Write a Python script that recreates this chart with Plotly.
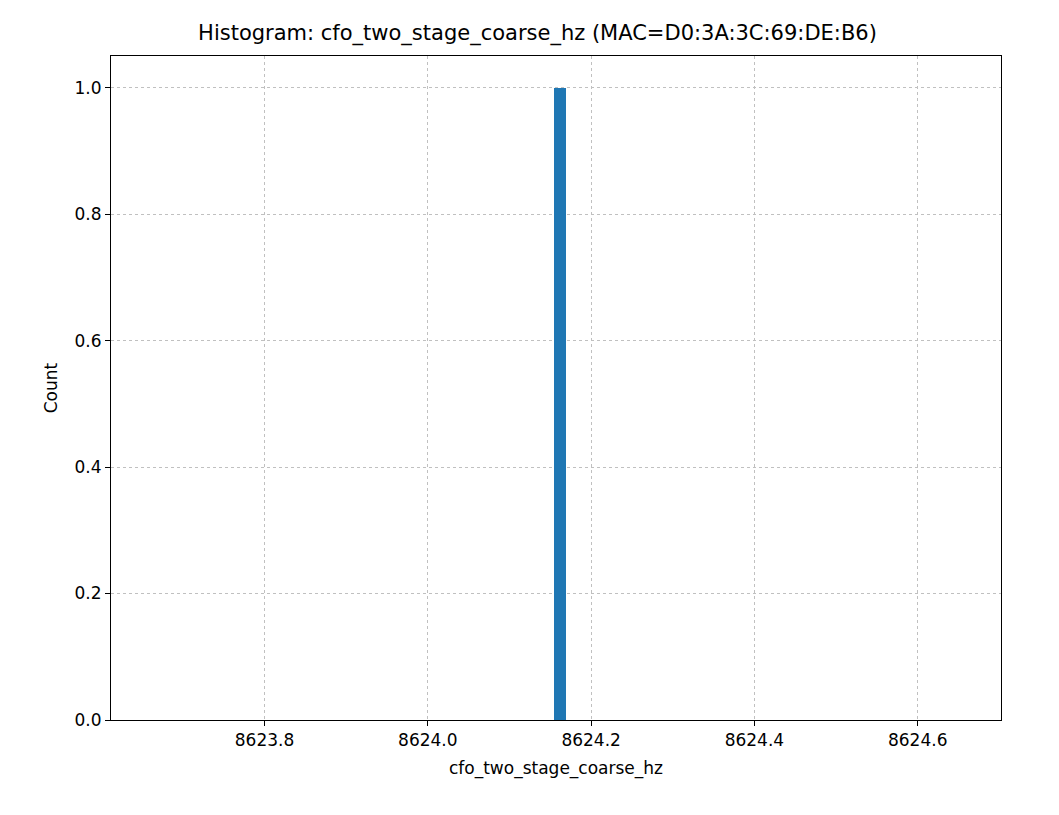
import plotly.graph_objects as go

# single observation -> one bin
bin_centers = [8624.162]
counts = [1]
bin_width = 0.0148

fig = go.Figure()
fig.add_trace(go.Bar(x=bin_centers, y=counts, width=bin_width,
                     marker=dict(color="#1f77b4", line=dict(width=0))))

axis_common = dict(showline=True, linecolor="black", linewidth=1, mirror=True,
                   ticks="outside", ticklen=5, tickcolor="black",
                   showgrid=True, gridcolor="#c0c0c0", griddash="dot", gridwidth=1,
                   zeroline=False, tickfont=dict(size=17, color="black"),
                   title_font=dict(size=17, color="black"))

fig.update_layout(
    width=1059, height=815,
    margin=dict(l=103, r=66, t=48, b=103),
    plot_bgcolor="white", paper_bgcolor="white",
    font=dict(family="DejaVu Sans", color="black"),
    title=dict(text="Histogram: cfo_two_stage_coarse_hz (MAC=D0:3A:3C:69:DE:B6)",
               x=0.5, xanchor="center", y=0.97, yanchor="middle",
               font=dict(size=21)),
    showlegend=False,
    bargap=0,
)
fig.update_xaxes(range=[8623.612, 8624.702], tickvals=[8623.8, 8624.0, 8624.2, 8624.4, 8624.6],
                 ticktext=["8623.8", "8624.0", "8624.2", "8624.4", "8624.6"],
                 title_text="cfo_two_stage_coarse_hz", title_standoff=12, **axis_common)
fig.update_yaxes(range=[0, 1.05], tickvals=[0, 0.2, 0.4, 0.6, 0.8, 1.0],
                 ticktext=["0.0", "0.2", "0.4", "0.6", "0.8", "1.0"],
                 title_text="Count", title_standoff=12, **axis_common)

fig.write_html("out.html")
